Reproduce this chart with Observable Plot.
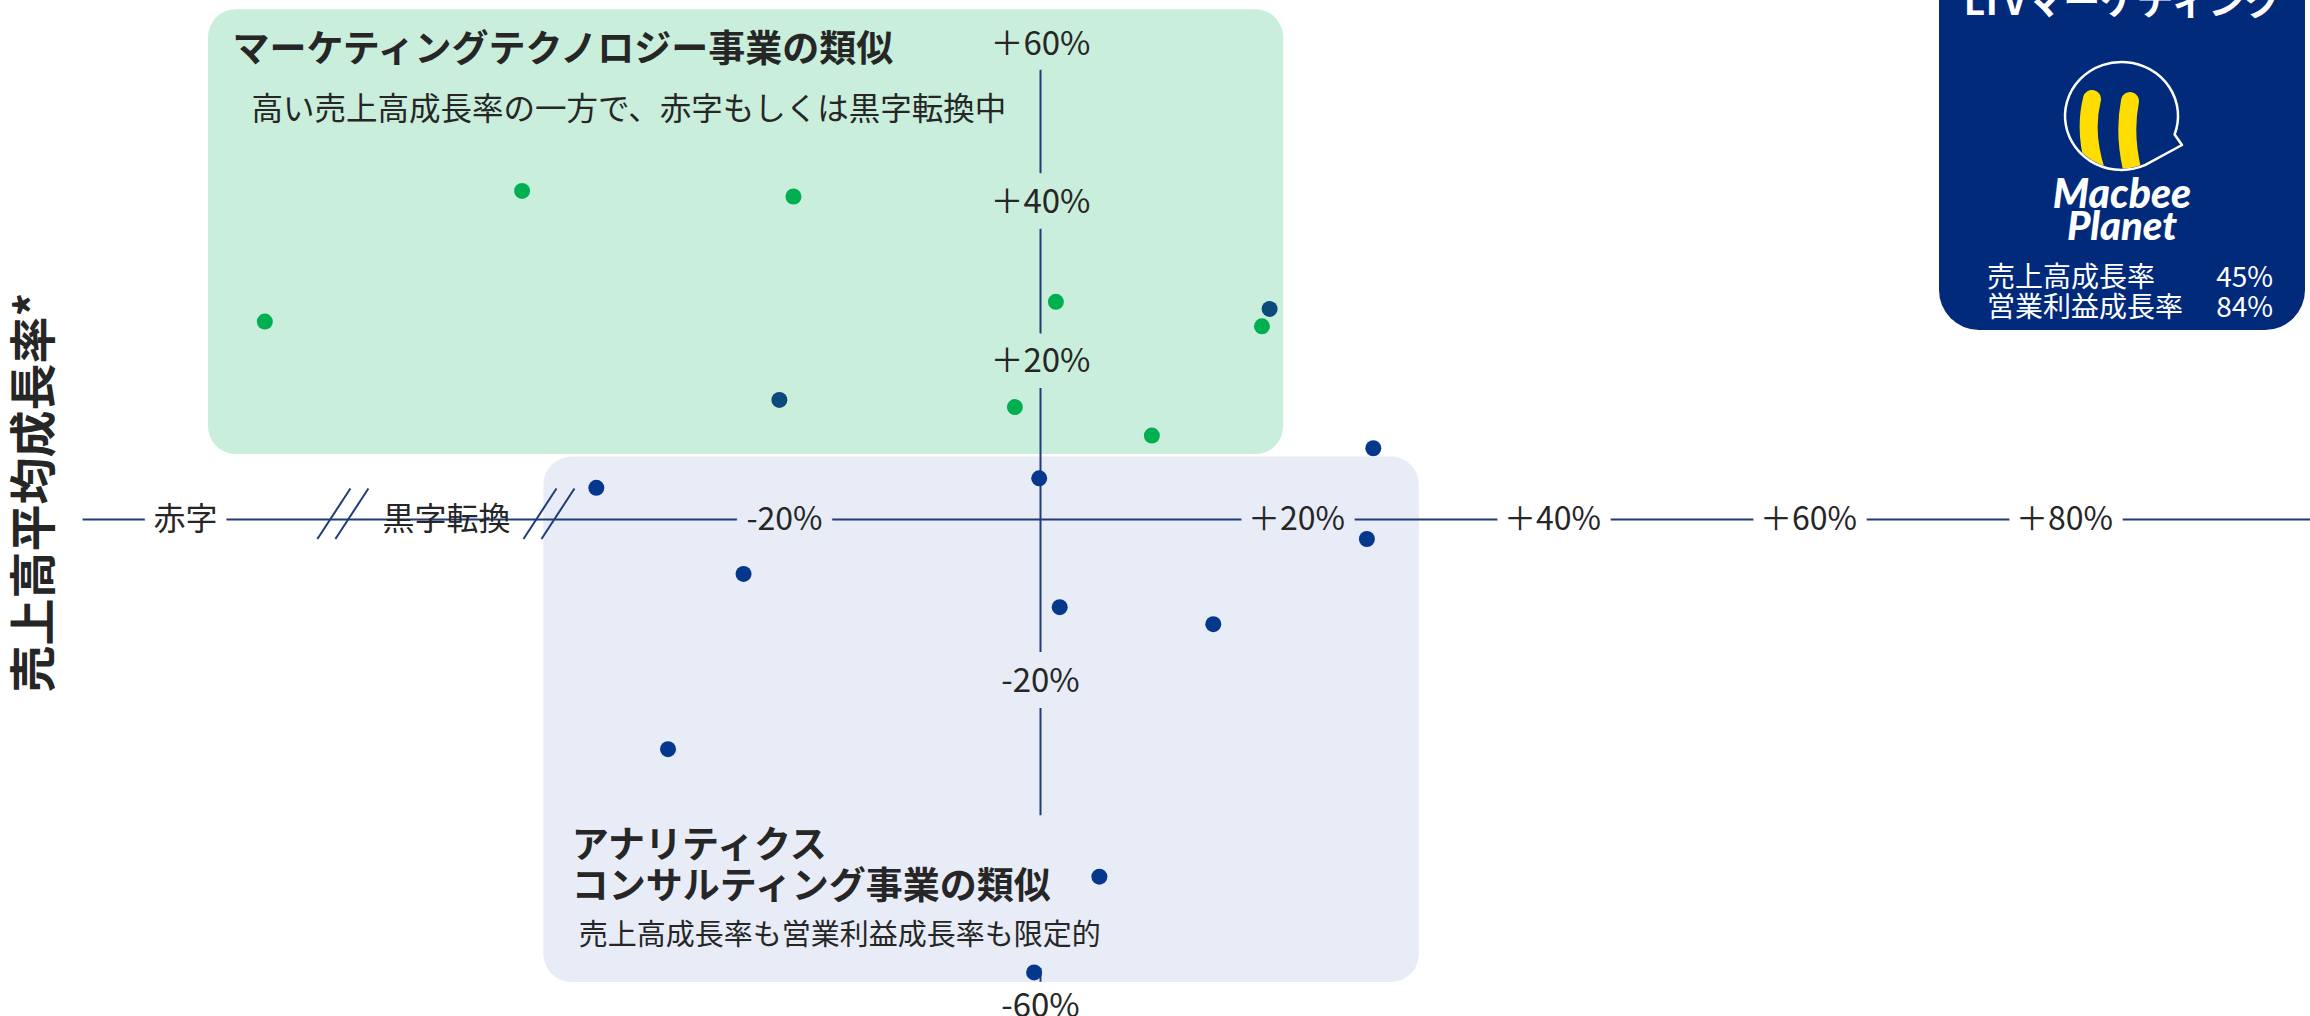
<!DOCTYPE html>
<html>
<head>
<meta charset="utf-8">
<script src="https://cdn.jsdelivr.net/npm/d3@7"></script>
<script src="https://cdn.jsdelivr.net/npm/@observablehq/plot@0.6"></script>
<style>
  html, body { margin: 0; padding: 0; background: #ffffff; }
  #wrap { position: relative; width: 2310px; height: 1016px; overflow: hidden; font-family: "Noto Sans CJK JP", "Noto Sans", sans-serif; }
  #chart svg { display: block; }
  #ltv { position: absolute; left: 1939px; top: 0; }
</style>
</head>
<body>
<div id="wrap">
  <div id="chart"></div>
  <svg id="ltv" width="371" height="340" viewBox="0 0 371 340" style="overflow:hidden">
    <rect x="0" y="-70" width="366" height="400" rx="40" ry="40" fill="#022a7a"></rect>
    <text x="184" y="15" text-anchor="middle" fill="#ffffff" font-family="Noto Sans CJK JP" font-weight="bold" font-size="37">LTVマーケティング</text>
    <g transform="translate(111,55)">
      <defs>
        <clipPath id="bubbleClip"><ellipse cx="71.5" cy="61" rx="55" ry="52.5"></ellipse></clipPath>
      </defs>
      <g clip-path="url(#bubbleClip)">
        <path d="M42,44 Q33,80 48,122" stroke="#ffdd00" stroke-width="18" stroke-linecap="round" fill="none"></path>
        <path d="M80,46 Q73,82 84,122" stroke="#ffdd00" stroke-width="18" stroke-linecap="round" fill="none"></path>
      </g>
      <path d="M124.6,79.5 A56.5,54 0 1 0 95.4,109.9 L132,90 Z" fill="none" stroke="#ffffff" stroke-width="2.5" stroke-linejoin="round"></path>
    </g>
    <text x="183" y="208" text-anchor="middle" fill="#ffffff" font-family="Lato" font-weight="900" font-style="italic" font-size="41">Macbee</text>
    <text x="183" y="240" text-anchor="middle" fill="#ffffff" font-family="Lato" font-weight="900" font-style="italic" font-size="40">Planet</text>
    <text x="48" y="287" fill="#ffffff" font-family="Noto Sans CJK JP" font-size="28">売上高成長率</text>
    <text x="334" y="287" text-anchor="end" fill="#ffffff" font-family="Noto Sans CJK JP" font-size="28">45%</text>
    <text x="48" y="317" fill="#ffffff" font-family="Noto Sans CJK JP" font-size="28">営業利益成長率</text>
    <text x="334" y="317" text-anchor="end" fill="#ffffff" font-family="Noto Sans CJK JP" font-size="28">84%</text>
  </svg>
</div>
<script>
// ---------------- DATA ----------------
// 売上高平均成長率 (%) — vertical axis
const salesGrowth = [25.0, 41.5, 40.8, 27.5, 24.4, 14.2, 10.6, 26.6, 15.1, 9.0, 4.0, 5.2, -2.4, -6.7, -10.8, -12.9, -28.3, -44.0, -55.8];
// 営業利益成長率 (%) — horizontal axis
// (the first two companies sit in the 赤字 / 黒字転換 bands left of the axis breaks)
const opProfitGrowth = [-60.6, -40.5, -19.3, 1.2, 17.3, -2.0, 8.7, 17.9, -20.4, 26.0, -34.7, -0.1, 25.5, -23.2, 1.5, 13.5, -29.1, 4.6, -0.5];
const segment = ["MT", "MT", "MT", "MT", "MT", "MT", "MT", "MID", "MID", "AC", "AC", "AC", "AC", "AC", "AC", "AC", "AC", "AC", "AC"];

// axis ticks
const xTickValues = [-66.8, -46.4, -20, 20, 40, 60, 80];
const xTickLabels = ["赤字", "黒字転換", "-20%", "＋20%", "＋40%", "＋60%", "＋80%"];
const yTickValues = [60, 40, 20, -20, -60];
const yTickLabels = ["＋60%", "＋40%", "＋20%", "-20%", "-60%"];
const axisBreaks = [-54.5, -38.4];

// quadrant zones
const zoneTitles = ["マーケティングテクノロジー事業の類似", "アナリティクス\nコンサルティング事業の類似"];
const zoneNotes = ["高い売上高成長率の一方で、赤字もしくは黒字転換中", "売上高成長率も営業利益成長率も限定的"];

// ---------------- STYLE / LAYOUT ----------------
const W = 2310, H = 1016;
const segColor = { MT: "#00b050", MID: "#0b4a7a", AC: "#05378c" };
const axisColor = "#1f3d7a";
const textColor = "#262626";

const zones = [
  { title: zoneTitles[0], note: zoneNotes[0], x1: -65.0, x2: 19.0, y1: 64.4, y2: 8.2, fill: "#c9eedb" },
  { title: zoneTitles[1], note: zoneNotes[1], x1: -38.8, x2: 29.6, y1: 7.89, y2: -57.04, fill: "#e8ecf7" }
];
// opaque box behind the analytics labels (hides the axis there)
const labelBox = [{ x1: -37.5, x2: 5.5, y1: -36.5, y2: -55.3, fill: zones[1].fill }];

const points = salesGrowth.map((s, i) => ({ x: opProfitGrowth[i], y: s, color: segColor[segment[i]] }));

const xRange = [1040, 2064], xDomain = [0, 80];
const yDomain = [-60, 0, 60], yRange = [1006, 519, 44];
const kx = (xRange[1] - xRange[0]) / (xDomain[1] - xDomain[0]);
const ky = (yRange[1] - yRange[2]) / 60;

function zoneFill(x, y) {
  for (const z of zones) if (x >= z.x1 && x <= z.x2 && y <= z.y1 && y >= z.y2) return z.fill;
  return "#ffffff";
}

const xTicks = xTickValues.map((v, i) => ({ v, label: xTickLabels[i], halo: zoneFill(v, 0), hw: xTickLabels[i] === "黒字転換" ? 0 : 22 }));
const yTicks = yTickValues.map((v, i) => {
  const halo = zoneFill(0, v);
  return { v, label: yTickLabels[i], halo, hw: halo === "#ffffff" ? 16 : 32 };
});

const slashes = [];
for (const b of axisBreaks) {
  for (const o of [-9, 9]) {
    slashes.push({
      x1: b + (o - 16.5) / kx, y1: (6 - 25) / ky,
      x2: b + (o + 16.5) / kx, y2: (6 + 25) / ky
    });
  }
}

const chart = Plot.plot({
  width: W, height: H,
  marginTop: 0, marginRight: 0, marginBottom: 0, marginLeft: 0,
  x: { type: "linear", domain: xDomain, range: xRange, axis: null },
  y: { type: "linear", domain: yDomain, range: yRange, axis: null },
  color: { type: "identity" },
  style: { fontFamily: "Noto Sans CJK JP", fontSize: "32px", color: textColor, background: "transparent", overflow: "visible" },
  marks: [
    Plot.rect(zones, { x1: "x1", x2: "x2", y1: "y1", y2: "y2", fill: "fill", rx: 28 }),
    Plot.ruleY([0], { x1: -74.8, x2: 99.5, stroke: axisColor, strokeWidth: 2 }),
    Plot.ruleX([0], { y1: -57, y2: 60, stroke: axisColor, strokeWidth: 2 }),
    Plot.rect(labelBox, { x1: "x1", x2: "x2", y1: "y1", y2: "y2", fill: "fill" }),
    Plot.link(slashes, { x1: "x1", y1: "y1", x2: "x2", y2: "y2", stroke: axisColor, strokeWidth: 2 }),
    Plot.text(xTicks, {
      x: "v", y: 0, text: "label", fill: textColor, stroke: "halo", strokeWidth: "hw",
      paintOrder: "stroke", strokeLinejoin: "round", fontSize: 32, lineAnchor: "middle"
    }),
    Plot.text(yTicks, {
      x: 0, y: "v", text: "label", fill: textColor, stroke: "halo", strokeWidth: "hw",
      paintOrder: "stroke", strokeLinejoin: "round", fontSize: 33, lineAnchor: "middle"
    }),
    // zone labels
    Plot.text([zones[0]], { x: "x1", y: "y1", text: "title", dx: 24, dy: 40, textAnchor: "start", lineAnchor: "middle", fontSize: 37, fontWeight: "bold", fill: textColor }),
    Plot.text([zones[0]], { x: "x1", y: "y1", text: "note", dx: 43, dy: 100, textAnchor: "start", lineAnchor: "middle", fontSize: 31.5, fill: textColor }),
    Plot.text([zones[1]], { x: "x1", y: "y2", text: "title", dx: 28, dy: -117.5, textAnchor: "start", lineAnchor: "middle", lineHeight: 1.11, fontSize: 37, fontWeight: "bold", fill: textColor }),
    Plot.text([zones[1]], { x: "x1", y: "y2", text: "note", dx: 35, dy: -47, textAnchor: "start", lineAnchor: "middle", fontSize: 29, fill: textColor }),
    // companies
    Plot.dot(points, { x: "x", y: "y", r: 8, fill: "color", stroke: null }),
    // vertical axis title
    Plot.text(["売上高平均成長率*"], { frameAnchor: "left", textAnchor: "middle", dx: 34, dy: -16, rotate: -90, fontSize: 47, fontWeight: "bold", fill: textColor, lineAnchor: "middle" })
  ]
});
document.getElementById("chart").appendChild(chart);
</script>
</body>
</html>
